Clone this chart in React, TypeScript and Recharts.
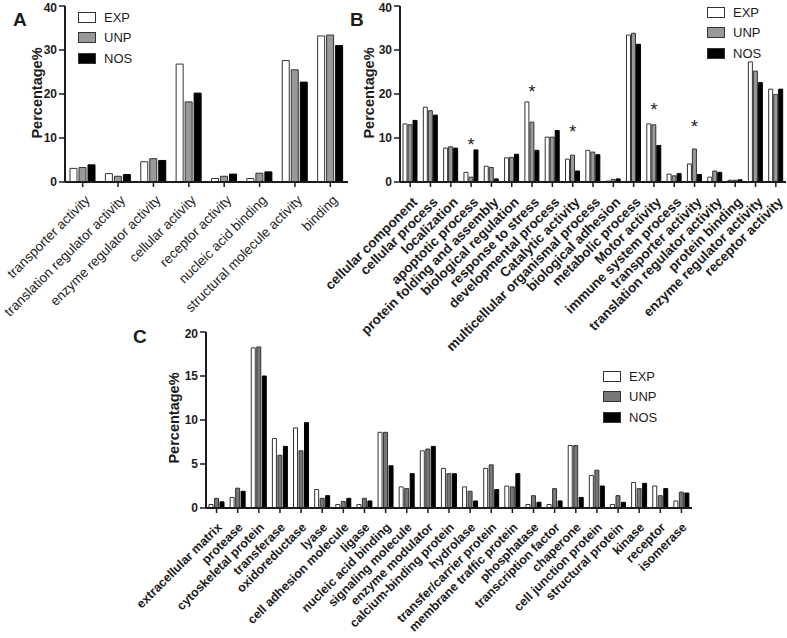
import { BarChart, Bar, XAxis, YAxis, ReferenceDot } from 'recharts';

const FONT = '"Liberation Sans", Arial, sans-serif';
const INK = '#1c1c1c';

// Panel A
const catsA = [
  'transporter activity', 'translation regulator activity', 'enzyme regulator activity',
  'cellular activity', 'receptor activity', 'nucleic acid binding',
  'structural molecule activity', 'binding',
];
const expA = [3.1, 1.9, 4.6, 26.8, 0.8, 0.8, 27.6, 33.2];
const unpA = [3.3, 1.3, 5.3, 18.2, 1.3, 2.0, 25.5, 33.4];
const nosA = [3.9, 1.7, 4.9, 20.2, 1.8, 2.3, 22.7, 31.0];

// Panel B
const catsB = [
  'cellular component', 'cellular process', 'localization', 'apoptotic process',
  'protein folding and assembly', 'biological regulation', 'response to stress',
  'developmental process', 'Catalytic activity', 'multicellular organismal process',
  'biological adhesion', 'metabolic process', 'Motor activity', 'immune system process',
  'transporter activity', 'translation regulator activity', 'protein binding',
  'enzyme regulator activity', 'receptor activity',
];
const expB = [13.2, 17.0, 7.7, 2.2, 3.6, 5.5, 18.2, 10.2, 5.2, 7.2, 0.2, 33.4, 13.2, 1.8, 4.1, 1.1, 0.4, 27.3, 21.1];
const unpB = [13.0, 16.2, 8.0, 1.1, 3.3, 5.6, 13.6, 10.2, 6.1, 6.8, 0.6, 33.8, 13.0, 1.4, 7.5, 2.5, 0.4, 25.2, 19.9];
const nosB = [14.0, 15.2, 7.7, 7.3, 0.7, 6.3, 7.2, 11.7, 2.5, 6.2, 0.7, 31.3, 8.3, 1.9, 1.7, 2.2, 0.5, 22.6, 21.1];
const starCatsB = ['apoptotic process', 'response to stress', 'Catalytic activity', 'Motor activity', 'transporter activity'];
const starLevelsB = [9.3, 21.4, 12.3, 17.3, 13.4];

// Panel C
const catsC = [
  'extracellular matrix', 'protease', 'cytoskeletal protein', 'transferase', 'oxidoreductase',
  'lyase', 'cell adhesion molecule', 'ligase', 'nucleic acid binding', 'signaling molecule',
  'enzyme modulator', 'calcium-binding protein', 'hydrolase', 'transfer/carrier protein',
  'membrane traffic protein', 'phosphatase', 'transcription factor', 'chaperone',
  'cell junction protein', 'structural protein', 'kinase', 'receptor', 'isomerase',
];
const expC = [0.4, 1.2, 18.2, 7.9, 9.1, 2.1, 0.4, 0.4, 8.6, 2.4, 6.5, 4.5, 2.4, 4.5, 2.5, 0.4, 0.4, 7.1, 3.7, 0.4, 2.9, 2.5, 0.8];
const unpC = [1.1, 2.25, 18.3, 6.0, 6.5, 1.1, 0.75, 1.1, 8.6, 2.2, 6.7, 3.9, 1.9, 4.9, 2.4, 1.4, 2.2, 7.1, 4.3, 1.4, 2.2, 1.4, 1.8];
const nosC = [0.7, 1.9, 15.0, 7.0, 9.7, 1.4, 1.1, 0.8, 4.8, 3.9, 7.0, 3.9, 0.8, 2.1, 3.9, 0.65, 0.8, 1.2, 2.5, 0.65, 2.8, 2.2, 1.7];

const build = (cats: string[], e: number[], u: number[], n: number[]) =>
  cats.map((c, i) => ({ cat: c, EXP: e[i], UNP: u[i], NOS: n[i] }));

const RotTick = (p: any) => {
  const { x, y, payload, fs, fw, ox, oy } = p;
  const ax = x + ox;
  const ay = y + oy;
  return (
    <text x={ax} y={ay} transform={`rotate(-45 ${ax} ${ay})`} textAnchor="end"
      fontSize={fs} fontWeight={fw} fill={INK} fontFamily={FONT}>
      {payload.value}
    </text>
  );
};

const Star = (p: any) => (
  <text x={p.cx} y={p.cy + 10} textAnchor="middle" fontSize={18} fill={INK} fontFamily={FONT}>*</text>
);

function Panel(props: any) {
  const { data, width, height, margin, yMax, yTicks, barSize, barGap, unpFill, fs, fw, ox, oy, xHeight, stars } = props;
  return (
    <BarChart width={width} height={height} data={data} margin={margin} barSize={barSize} barGap={barGap}>
      <XAxis dataKey="cat" interval={0} height={xHeight} tickSize={5} tickMargin={2}
        axisLine={{ stroke: INK, strokeWidth: 2 }} tickLine={{ stroke: INK, strokeWidth: 1.5 }}
        tick={(p: any) => <RotTick {...p} fs={fs} fw={fw} ox={ox} oy={oy} />} />
      <YAxis type="number" domain={[0, yMax]} ticks={yTicks} width={65} tickSize={6} tickMargin={2}
        axisLine={{ stroke: INK, strokeWidth: 2 }} tickLine={{ stroke: INK, strokeWidth: 1.5 }}
        tick={{ fontSize: 12, fontWeight: 'bold', fill: INK, fontFamily: FONT }} />
      <Bar dataKey="EXP" fill="#ffffff" stroke="#333" strokeWidth={1} isAnimationActive={false} />
      <Bar dataKey="UNP" fill={unpFill} stroke="#333" strokeWidth={1} isAnimationActive={false} />
      <Bar dataKey="NOS" fill="#000000" stroke="#000" strokeWidth={1} isAnimationActive={false} />
      {stars && stars.cats.map((c: string, i: number) => (
        <ReferenceDot key={c} x={c} y={stars.levels[i]} r={0} shape={Star} />
      ))}
    </BarChart>
  );
}

function Legend({ left, top, unpFill }: { left: number; top: number; unpFill: string }) {
  const items = [
    { name: 'EXP', fill: '#fff' },
    { name: 'UNP', fill: unpFill },
    { name: 'NOS', fill: '#000' },
  ];
  return (
    <div style={{ position: 'absolute', left, top, fontFamily: FONT, fontSize: 13, color: INK }}>
      {items.map((it) => (
        <div key={it.name} style={{ display: 'flex', alignItems: 'center', height: 20.5 }}>
          <div style={{ width: 16, height: 9, border: '1px solid #333', background: it.fill, marginRight: 8 }} />
          <span>{it.name}</span>
        </div>
      ))}
    </div>
  );
}

const YTitle = ({ cx, cy }: { cx: number; cy: number }) => (
  <div style={{
    position: 'absolute', left: cx - 60, top: cy - 10, width: 120, height: 20, textAlign: 'center',
    transform: 'rotate(-90deg)', fontFamily: FONT, fontSize: 14.5, fontWeight: 'bold', color: INK, lineHeight: '20px',
  }}>Percentage%</div>
);

const PanelLetter = ({ x, y, t }: { x: number; y: number; t: string }) => (
  <div style={{ position: 'absolute', left: x, top: y, fontFamily: FONT, fontSize: 19, fontWeight: 'bold', color: INK }}>{t}</div>
);

export default function App() {
  return (
    <div style={{ position: 'absolute', left: 0, top: 0, width: 787, height: 638, background: '#fff', overflow: 'hidden' }}>
      <div style={{ position: 'absolute', left: 0, top: 0 }}>
        <Panel data={build(catsA, expA, unpA, nosA)} width={350} height={340}
          margin={{ top: 6, right: 2, left: 0, bottom: 0 }} xHeight={158}
          yMax={40} yTicks={[0, 10, 20, 30, 40]} barSize={7} barGap={2} unpFill="#999999"
          fs={13.5} fw="normal" ox={8} oy={12} />
      </div>
      <div style={{ position: 'absolute', left: 260, top: 0 }}>
        <Panel data={build(catsB, expB, unpB, nosB)} width={527} height={370}
          margin={{ top: 6, right: 1, left: 75, bottom: 0 }} xHeight={188}
          yMax={40} yTicks={[0, 10, 20, 30, 40]} barSize={4} barGap={1} unpFill="#999999"
          fs={13.5} fw="bold" ox={8} oy={14}
          stars={{ cats: starCatsB, levels: starLevelsB }} />
      </div>
      <div style={{ position: 'absolute', left: 60, top: 326 }}>
        <Panel data={build(catsC, expC, unpC, nosC)} width={641} height={312}
          margin={{ top: 6, right: 9, left: 81, bottom: 0 }} xHeight={130}
          yMax={20} yTicks={[0, 5, 10, 15, 20]} barSize={4} barGap={1.5} unpFill="#777777"
          fs={12.5} fw="bold" ox={6} oy={13} />
      </div>
      <Legend left={78} top={7} unpFill="#999999" />
      <Legend left={707} top={2} unpFill="#999999" />
      <Legend left={603} top={366} unpFill="#777777" />
      <YTitle cx={37} cy={93} />
      <YTitle cx={369} cy={93} />
      <YTitle cx={174} cy={418} />
      <PanelLetter x={13} y={9} t="A" />
      <PanelLetter x={350} y={9} t="B" />
      <PanelLetter x={133} y={326} t="C" />
    </div>
  );
}
